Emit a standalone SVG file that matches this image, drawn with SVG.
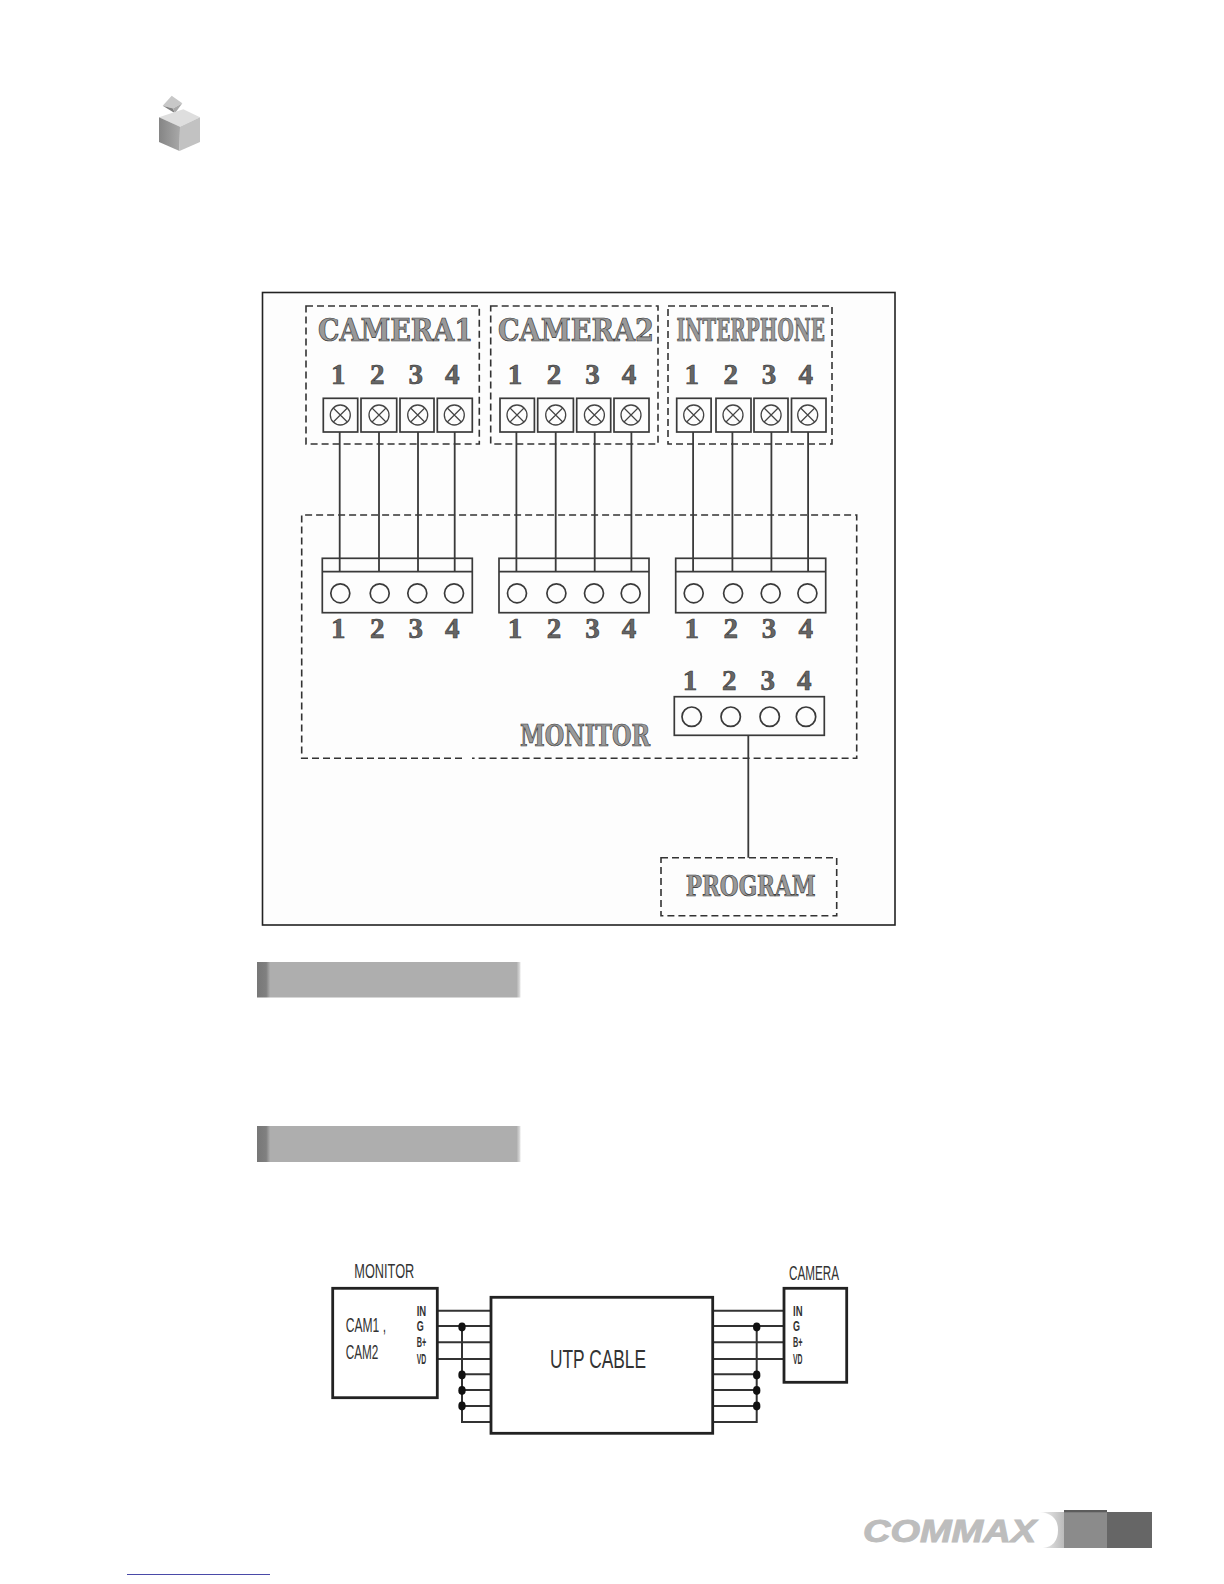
<svg xmlns="http://www.w3.org/2000/svg" width="1224" height="1584" viewBox="0 0 1224 1584">
<style>
.dash{fill:none;stroke:#333;stroke-width:1.6;stroke-dasharray:7 4}
.box{fill:none;stroke:#3a3a3a;stroke-width:1.7}
.wire{fill:none;stroke:#3a3a3a;stroke-width:1.8}
.thick{fill:#fff;stroke:#222;stroke-width:2.8}
.w2{fill:none;stroke:#333;stroke-width:2}
.dot{fill:#111}
.n{font-family:"Liberation Serif",serif;font-weight:700;font-size:29px;fill:#666;stroke:#333;stroke-width:.6;text-anchor:middle}
.t{font-family:"DejaVu Serif",serif;font-weight:700;font-size:31px;fill:#999;stroke:#333;stroke-width:.7}
.s{font-family:"Liberation Sans",sans-serif;fill:#333}
.p{font-family:"Liberation Sans",sans-serif;font-weight:700;font-size:14px;fill:#333}
</style>
<defs>
<g id="x"><circle r="10" fill="none" stroke="#444" stroke-width="1.3"/><path d="M-7-7 7 7M-7 7 7-7" stroke="#444" stroke-width="1.2"/></g>
<linearGradient id="bar"><stop offset="0" stop-color="#777"/><stop offset=".035" stop-color="#808080"/><stop offset=".05" stop-color="#aeaeae"/><stop offset=".985" stop-color="#aeaeae"/><stop offset="1" stop-color="#e4e4e4"/></linearGradient>
<linearGradient id="cres"><stop offset="0" stop-color="#f0f0f0"/><stop offset="1" stop-color="#bbb"/></linearGradient>
<linearGradient id="lf" x1="0" x2="1"><stop offset="0" stop-color="#858585"/><stop offset="1" stop-color="#a8a8a8"/></linearGradient>
</defs>
<g id="cube-icon">
<path d="M162.7 105.7 171.7 95.7 182.3 103.3 173 108.5Z" fill="#c8c8c8"/>
<path d="M162.7 105.7 173 108.5 175 113.3Z" fill="#808080"/>
<path d="M173 108.5 182.3 103.3 175 113.3Z" fill="#a8a8a8"/>
<path d="M159 117.3 183.3 109.3 200 117.3 180 126.7Z" fill="#dedede"/>
<path d="M159 117.3 180 126.7 179.5 151 159 142Z" fill="url(#lf)"/>
<path d="M180 126.7 200 117.3 200 142 179.5 151Z" fill="#c2c2c2"/>
</g>
<g id="wiring-frame">
<rect x="262.5" y="292.5" width="632.5" height="632.5" fill="#fdfdfd" stroke="#222" stroke-width="1.6"/>
</g>
<g id="camera1">
<rect class="dash" x="306" y="306" width="173.3" height="138"/>
<text class="t" x="318" y="341" textLength="155" lengthAdjust="spacingAndGlyphs">CAMERA1</text>
<text class="n" x="338.3" y="384">1</text><text class="n" x="377.3" y="384">2</text><text class="n" x="415.7" y="384">3</text><text class="n" x="452.3" y="384">4</text>
<rect class="box" x="323.3" y="398.3" width="34.4" height="33.7"/><rect class="box" x="361" y="398.3" width="35.7" height="33.7"/><rect class="box" x="400" y="398.3" width="34" height="33.7"/><rect class="box" x="437.3" y="398.3" width="35" height="33.7"/>
<use href="#x" x="340.3" y="415"/><use href="#x" x="379" y="415"/><use href="#x" x="417.7" y="415"/><use href="#x" x="454.3" y="415"/>
</g>
<g id="camera2">
<rect class="dash" x="490.7" y="306" width="167.3" height="138"/>
<text class="t" x="498" y="341" textLength="156" lengthAdjust="spacingAndGlyphs">CAMERA2</text>
<text class="n" x="515" y="384">1</text><text class="n" x="554" y="384">2</text><text class="n" x="592.4" y="384">3</text><text class="n" x="629" y="384">4</text>
<rect class="box" x="500" y="398.3" width="34.4" height="33.7"/><rect class="box" x="537.7" y="398.3" width="35.7" height="33.7"/><rect class="box" x="576.7" y="398.3" width="34" height="33.7"/><rect class="box" x="614" y="398.3" width="35" height="33.7"/>
<use href="#x" x="517" y="415"/><use href="#x" x="555.7" y="415"/><use href="#x" x="594.4" y="415"/><use href="#x" x="631" y="415"/>
</g>
<g id="interphone">
<rect class="dash" x="668" y="306" width="164" height="138"/>
<text class="t" x="676.5" y="341" textLength="148.5" lengthAdjust="spacingAndGlyphs">INTERPHONE</text>
<text class="n" x="691.7" y="384">1</text><text class="n" x="730.7" y="384">2</text><text class="n" x="769" y="384">3</text><text class="n" x="805.7" y="384">4</text>
<rect class="box" x="676.7" y="398.3" width="34.4" height="33.7"/><rect class="box" x="716" y="398.3" width="35" height="33.7"/><rect class="box" x="754" y="398.3" width="34" height="33.7"/><rect class="box" x="791.5" y="398.3" width="34.5" height="33.7"/>
<use href="#x" x="693.7" y="415"/><use href="#x" x="733" y="415"/><use href="#x" x="771.1" y="415"/><use href="#x" x="807.7" y="415"/>
</g>
<g id="monitor">
<path class="dash" d="M462 758.3H301.7V515H856.7V758.3H472"/>
<g id="block1">
<rect class="box" x="322.3" y="558.3" width="150" height="54.4"/><path class="box" d="M322.3 571.7H472.3"/>
<g class="box"><circle cx="340.3" cy="593.3" r="9.5"/><circle cx="379.7" cy="593.3" r="9.5"/><circle cx="417.3" cy="593.3" r="9.5"/><circle cx="454" cy="593.3" r="9.5"/></g>
<text class="n" x="338.3" y="638">1</text><text class="n" x="377.3" y="638">2</text><text class="n" x="415.7" y="638">3</text><text class="n" x="452.3" y="638">4</text>
</g>
<g id="block2">
<rect class="box" x="499" y="558.3" width="150" height="54.4"/><path class="box" d="M499 571.7H649"/>
<g class="box"><circle cx="517" cy="593.3" r="9.5"/><circle cx="556.4" cy="593.3" r="9.5"/><circle cx="594" cy="593.3" r="9.5"/><circle cx="630.7" cy="593.3" r="9.5"/></g>
<text class="n" x="515" y="638">1</text><text class="n" x="554" y="638">2</text><text class="n" x="592.4" y="638">3</text><text class="n" x="629" y="638">4</text>
</g>
<g id="block3">
<rect class="box" x="675.7" y="558.3" width="150" height="54.4"/><path class="box" d="M675.7 571.7H825.7"/>
<g class="box"><circle cx="693.7" cy="593.3" r="9.5"/><circle cx="733.1" cy="593.3" r="9.5"/><circle cx="770.7" cy="593.3" r="9.5"/><circle cx="807.4" cy="593.3" r="9.5"/></g>
<text class="n" x="691.7" y="638">1</text><text class="n" x="730.7" y="638">2</text><text class="n" x="769" y="638">3</text><text class="n" x="805.7" y="638">4</text>
</g>
<g id="block4">
<rect class="box" x="674.3" y="696.7" width="150" height="38.6"/>
<g class="box"><circle cx="691.7" cy="716.7" r="9.7"/><circle cx="730.7" cy="716.7" r="9.7"/><circle cx="769.7" cy="716.7" r="9.7"/><circle cx="806" cy="716.7" r="9.7"/></g>
<text class="n" x="690" y="690">1</text><text class="n" x="729.3" y="690">2</text><text class="n" x="767.7" y="690">3</text><text class="n" x="804.3" y="690">4</text>
</g>
<text class="t" x="520" y="746" textLength="130" lengthAdjust="spacingAndGlyphs" style="font-size:29px">MONITOR</text>
</g>
<g id="program">
<rect class="dash" x="661" y="857.7" width="175.7" height="58"/>
<text class="t" x="685.7" y="895.7" textLength="130" lengthAdjust="spacingAndGlyphs" style="font-size:28px">PROGRAM</text>
</g>
<g id="connectors">
<path class="wire" d="M339.7 432V571.7M379 432V571.7M418 432V571.7M454.7 432V571.7M516.4 432V571.7M555.7 432V571.7M594.7 432V571.7M631.4 432V571.7M693.1 432V571.7M732.4 432V571.7M771.4 432V571.7M808.1 432V571.7M748.3 735.3V857.7"/>
<path class="w2" d="M437.3 1310.7H491M437.3 1326H491M437.3 1342.3H491M437.3 1359H491M462 1374.3H491M462 1390H491M462 1406H491M462 1326V1422H491"/>
<path class="w2" d="M712.7 1310.7H784M712.7 1326H784M712.7 1342.3H784M712.7 1359H784M712.7 1374.3H756.7M712.7 1390H756.7M712.7 1406H756.7M756.7 1326V1422H712.7"/>
<g class="dot"><ellipse cx="462" cy="1327" rx="3.7" ry="4.4"/><ellipse cx="462" cy="1375" rx="3.7" ry="4.4"/><ellipse cx="462" cy="1390.5" rx="3.7" ry="4.4"/><ellipse cx="462" cy="1406" rx="3.7" ry="4.4"/><ellipse cx="756.7" cy="1327" rx="3.7" ry="4.4"/><ellipse cx="756.7" cy="1375" rx="3.7" ry="4.4"/><ellipse cx="756.7" cy="1390.5" rx="3.7" ry="4.4"/><ellipse cx="756.7" cy="1406" rx="3.7" ry="4.4"/></g>
</g>
<g id="bars">
<rect x="257" y="962" width="263.5" height="35.5" fill="url(#bar)"/>
<rect x="257" y="1126" width="263.5" height="36" fill="url(#bar)"/>
</g>
<g id="utp-monitor">
<rect class="thick" x="332.7" y="1288.3" width="104.6" height="109.4"/>
<text class="s" x="354.3" y="1278.3" font-size="19.5" textLength="60" lengthAdjust="spacingAndGlyphs">MONITOR</text>
<text class="s" x="345.7" y="1331.7" font-size="20" textLength="40.3" lengthAdjust="spacingAndGlyphs">CAM1 ,</text>
<text class="s" x="345.7" y="1359" font-size="20" textLength="32.6" lengthAdjust="spacingAndGlyphs">CAM2</text>
<text class="p" x="416.7" y="1315.7" textLength="9.5" lengthAdjust="spacingAndGlyphs">IN</text>
<text class="p" x="416.7" y="1331" textLength="7" lengthAdjust="spacingAndGlyphs">G</text>
<text class="p" x="416.7" y="1347.3" textLength="9.5" lengthAdjust="spacingAndGlyphs">B+</text>
<text class="p" x="416.7" y="1364" textLength="9.5" lengthAdjust="spacingAndGlyphs">VD</text>
</g>
<g id="utp-cable">
<rect class="thick" x="491" y="1297.3" width="221.7" height="136"/>
<text class="s" x="550" y="1368" font-size="25" textLength="96" lengthAdjust="spacingAndGlyphs">UTP CABLE</text>
</g>
<g id="utp-camera">
<rect class="thick" x="784" y="1288.3" width="62.7" height="94"/>
<text class="s" x="789" y="1280" font-size="19.5" textLength="50" lengthAdjust="spacingAndGlyphs">CAMERA</text>
<text class="p" x="793" y="1315.7" textLength="9.5" lengthAdjust="spacingAndGlyphs">IN</text>
<text class="p" x="793" y="1331" textLength="7" lengthAdjust="spacingAndGlyphs">G</text>
<text class="p" x="793" y="1347.3" textLength="9.5" lengthAdjust="spacingAndGlyphs">B+</text>
<text class="p" x="793" y="1364" textLength="9.5" lengthAdjust="spacingAndGlyphs">VD</text>
</g>
<g id="logo">
<text x="863" y="1541.5" font-family="Liberation Sans,sans-serif" font-weight="700" font-style="italic" font-size="32" fill="#bdbdbd" stroke="#bdbdbd" stroke-width="1" textLength="173" lengthAdjust="spacingAndGlyphs">COMMAX</text>
<path d="M1040 1512Q1058 1514 1058 1530 1058 1546 1043 1548H1064V1512Z" fill="url(#cres)"/>
<rect x="1064" y="1512" width="43" height="36" fill="#8b8b8b"/>
<rect x="1064" y="1510" width="43" height="2.3" fill="#5c5c5c"/>
<rect x="1107" y="1512" width="45" height="36" fill="#666"/>
</g>
<path id="footer-rule" d="M127 1574.5H270" stroke="#4a4aa8" stroke-width="1.2"/>
</svg>
